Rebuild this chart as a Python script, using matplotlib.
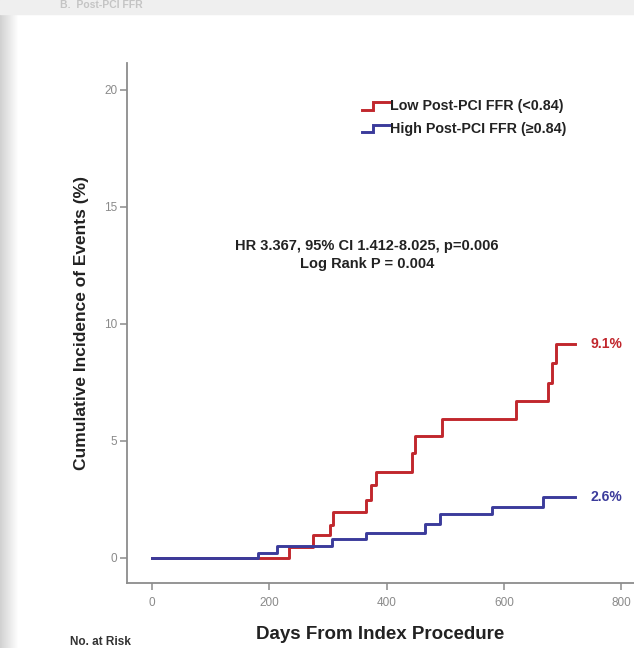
import numpy as np
import matplotlib
matplotlib.use("Agg")
import matplotlib.pyplot as plt
from matplotlib.legend_handler import HandlerBase
from matplotlib.lines import Line2D

plt.rcParams['font.family'] = ['Liberation Sans', 'DejaVu Sans']

# step curves (days, cumulative incidence %)
low_days = [0, 233, 275, 303, 309, 365, 373, 382, 443, 448, 494, 620, 675, 682, 689, 722]
low_pct = [0.0, 0.45, 0.98, 1.41, 1.98, 2.48, 3.12, 3.69, 4.50, 5.21, 5.93, 6.71, 7.49, 8.32, 9.15, 9.15]

high_days = [0, 181, 213, 307, 365, 466, 491, 580, 667, 722]
high_pct = [0.0, 0.23, 0.51, 0.80, 1.05, 1.44, 1.87, 2.19, 2.59, 2.59]

labels = ["Low Post-PCI FFR (<0.84)", "High Post-PCI FFR (\u22650.84)"]
end_labels = ["9.1%", "2.6%"]
colors = ["#c1272d", "#3b3b9b"]

x_ticks = [0, 200, 400, 600, 800]
y_ticks = [0, 5, 10, 15, 20]


class StepHandler(HandlerBase):
    """legend key drawn as a little KM step"""
    def create_artists(self, legend, orig_handle, xdescent, ydescent,
                       width, height, fontsize, trans):
        w, h = width, height
        xs = [-xdescent, 0.4 * w, 0.4 * w, w]
        ys = [0.05 * h, 0.05 * h, 0.8 * h, 0.8 * h]
        ln = Line2D(xs, ys, color=orig_handle.get_color(),
                    lw=orig_handle.get_linewidth(), solid_joinstyle='miter')
        ln.set_transform(trans)
        return [ln]


fig = plt.figure(figsize=(6.34, 6.48), dpi=100)

# grey page shadow on the left and top edge
bg = fig.add_axes([0, 0, 1, 1], zorder=-10)
xs = np.arange(634)
grad = np.tile(0.82 + 0.18 * np.clip(xs / 18.0, 0, 1), (60, 1))
bg.imshow(grad, cmap='gray', vmin=0, vmax=1, aspect='auto', extent=[0, 1, 0, 1])
bg.axhspan(0.978, 1.0, color='#efefef', zorder=2)
bg.set_xlim(0, 1)
bg.set_ylim(0, 1)
bg.axis('off')
fig.text(60 / 634, 1.0, "B.  Post-PCI FFR", ha='left', va='top', fontsize=7.5,
         fontweight='bold', color='#c4c4c4')

ax = fig.add_axes([127 / 634, 1 - 583 / 648, 1 - 127 / 634, (583 - 63) / 648])
ax.patch.set_alpha(0)

h_low, = ax.step(low_days, low_pct, where='post', color=colors[0], lw=2.1)
h_high, = ax.step(high_days, high_pct, where='post', color=colors[1], lw=2.1)

ax.text(low_days[-1] + 26, low_pct[-1], end_labels[0], color=colors[0],
        fontsize=10, fontweight='bold', va='center', ha='left')
ax.text(high_days[-1] + 26, high_pct[-1], end_labels[1], color=colors[1],
        fontsize=10, fontweight='bold', va='center', ha='left')

ax.text(367, 12.95, "HR 3.367, 95% CI 1.412-8.025, p=0.006\nLog Rank P = 0.004",
        ha='center', va='center', fontsize=10.5, fontweight='bold',
        linespacing=1.4, color='#222222')

leg = ax.legend([h_low, h_high], labels, handler_map={Line2D: StepHandler()},
                loc='upper left', bbox_to_anchor=(0.4635, 0.93), frameon=False,
                fontsize=10.3, handlelength=1.9, handletextpad=0.05,
                labelspacing=0.6, borderaxespad=0, borderpad=0)
for t in leg.get_texts():
    t.set_fontweight('bold')
    t.set_color('#222222')

ax.set_xlim(-42.6, 822)
ax.set_ylim(-1.07, 21.15)
ax.set_xticks(x_ticks)
ax.set_yticks(y_ticks)

for side in ['top', 'right']:
    ax.spines[side].set_visible(False)
for side in ['left', 'bottom']:
    ax.spines[side].set_color('#8c8c8c')
    ax.spines[side].set_linewidth(1.3)

ax.tick_params(axis='both', direction='out', length=5, width=1.1,
               color='#8c8c8c', labelcolor='#8a8a8a', labelsize=8.5)
ax.tick_params(axis='x', pad=5)
ax.tick_params(axis='y', pad=2)

ax.set_ylabel("Cumulative Incidence of Events (%)", fontsize=12.5,
              fontweight='bold', color='#222222', labelpad=11)
ax.set_xlabel("Days From Index Procedure", fontsize=13.5, fontweight='bold',
              color='#222222', labelpad=12)

fig.text(70 / 634, 1 - 642 / 648, "No. at Risk", fontsize=8.5, fontweight='bold',
         color='#333333', ha='left', va='center')

fig.savefig("out.png", dpi=100)
